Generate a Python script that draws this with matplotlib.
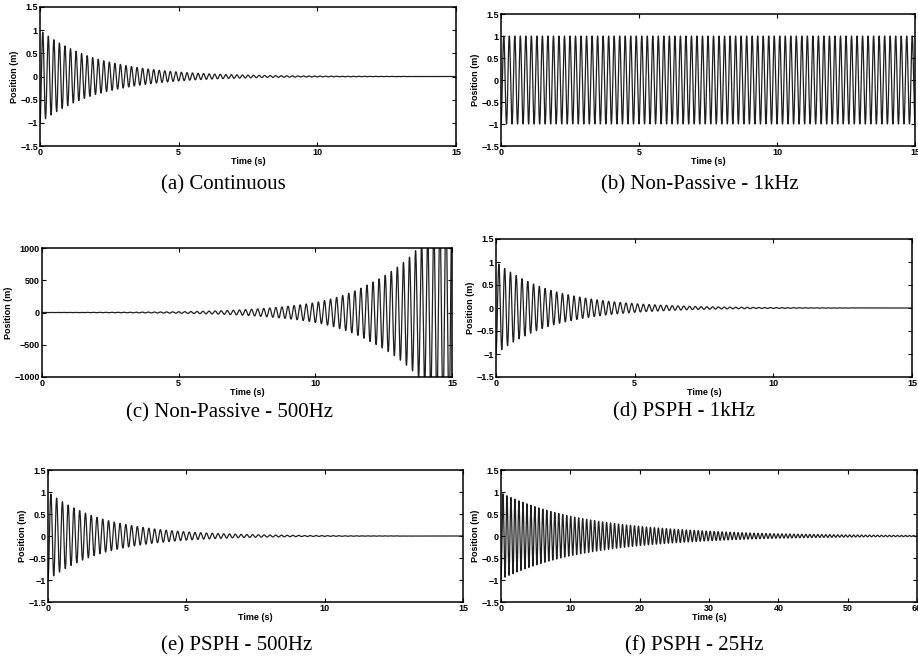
import numpy as np
import matplotlib
matplotlib.use("Agg")
import matplotlib.pyplot as plt

# envelope (time in s, amplitude in m) and oscillation freq (Hz)
env_t_a = [0, 1, 2, 3, 4, 5, 6, 7, 8, 10, 15]
env_a_a = [1.0, 0.63, 0.39, 0.25, 0.155, 0.097, 0.06, 0.038, 0.024, 0.009, 0.001]
freq_a = 5.0

env_t_b = [0, 15]
env_a_b = [1.0, 1.0]
freq_b = 5.0

env_t_c = [0, 2, 4, 6, 8, 10, 12, 13.5, 15]
env_a_c = [1.0, 2.7, 7.4, 20, 60, 155, 450, 880, 1900]
freq_c = 4.5

env_t_d = [0, 1, 2, 3, 4, 5, 6, 7, 8, 10, 15]
env_a_d = [1.0, 0.62, 0.38, 0.24, 0.15, 0.095, 0.06, 0.037, 0.023, 0.009, 0.001]
freq_d = 4.8

env_t_e = [0, 1, 2, 3, 4, 5, 6, 7, 8, 10, 15]
env_a_e = [1.0, 0.62, 0.38, 0.24, 0.15, 0.095, 0.06, 0.037, 0.023, 0.009, 0.001]
freq_e = 4.8

env_t_f = [0, 10, 20, 30, 40, 50, 60]
env_a_f = [0.98, 0.45, 0.22, 0.11, 0.05, 0.025, 0.012]
freq_f = 1.74

captions = ["(a) Continuous", "(b) Non-Passive - 1kHz", "(c) Non-Passive - 500Hz",
            "(d) PSPH - 1kHz", "(e) PSPH - 500Hz", "(f) PSPH - 25Hz"]
t_end = [15, 15, 15, 15, 15, 60]

panels = [(env_t_a, env_a_a, freq_a), (env_t_b, env_a_b, freq_b), (env_t_c, env_a_c, freq_c),
          (env_t_d, env_a_d, freq_d), (env_t_e, env_a_e, freq_e), (env_t_f, env_a_f, freq_f)]

# axes boxes in pixels: left, top, right, bottom
boxes = [(40, 7, 456, 146), (501, 14, 915, 146), (42, 248, 452, 377),
         (496, 239, 912, 377), (48, 470, 463, 602), (501, 470, 917, 602)]
cap_pos = [(223, 185), (700, 185), (229, 413), (684, 412), (237, 646), (694, 646)]

W, H = 918, 658
plt.rcParams['font.family'] = ['Liberation Sans', 'DejaVu Sans']
fig = plt.figure(figsize=(W / 100, H / 100), dpi=100)

for i, ((et, ea, f), (l, t, r, b)) in enumerate(zip(panels, boxes)):
    ax = fig.add_axes([l / W, 1 - b / H, (r - l) / W, (b - t) / H])
    tt = np.linspace(0, t_end[i], 40000)
    env = np.exp(np.interp(tt, et, np.log(ea)))
    y = -env * np.cos(2 * np.pi * f * tt)
    ax.plot(tt, y, color='#1e1e1e', lw=0.9)
    ax.set_xlim(0, t_end[i])
    if i == 2:
        ax.set_ylim(-1000, 1000)
        ax.set_yticks([-1000, -500, 0, 500, 1000])
        ax.set_yticklabels(['\u22121000', '\u2212500', '0', '500', '1000'])
    else:
        ax.set_ylim(-1.5, 1.5)
        ax.set_yticks([-1.5, -1, -0.5, 0, 0.5, 1, 1.5])
        ax.set_yticklabels(['\u22121.5', '\u22121', '\u22120.5', '0', '0.5', '1', '1.5'])
    if i == 5:
        ax.set_xticks(range(0, 61, 10))
    else:
        ax.set_xticks([0, 5, 10, 15])
    ax.tick_params(direction='in', top=True, right=True, length=3, width=0.8,
                   labelsize=6.5, pad=1.5)
    for lab in ax.get_xticklabels() + ax.get_yticklabels():
        lab.set_fontweight('bold')
    for s in ax.spines.values():
        s.set_linewidth(1.1)
    ax.set_xlabel('Time (s)', fontsize=6.5, fontweight='bold', labelpad=0)
    ax.set_ylabel('Position (m)', fontsize=6.5, fontweight='bold', labelpad=1)
    cx, cy = cap_pos[i]
    fig.text(cx / W, 1 - cy / H, captions[i], ha='center', va='center',
             fontsize=15, family='Liberation Serif')

fig.savefig('out.png', dpi=100)
